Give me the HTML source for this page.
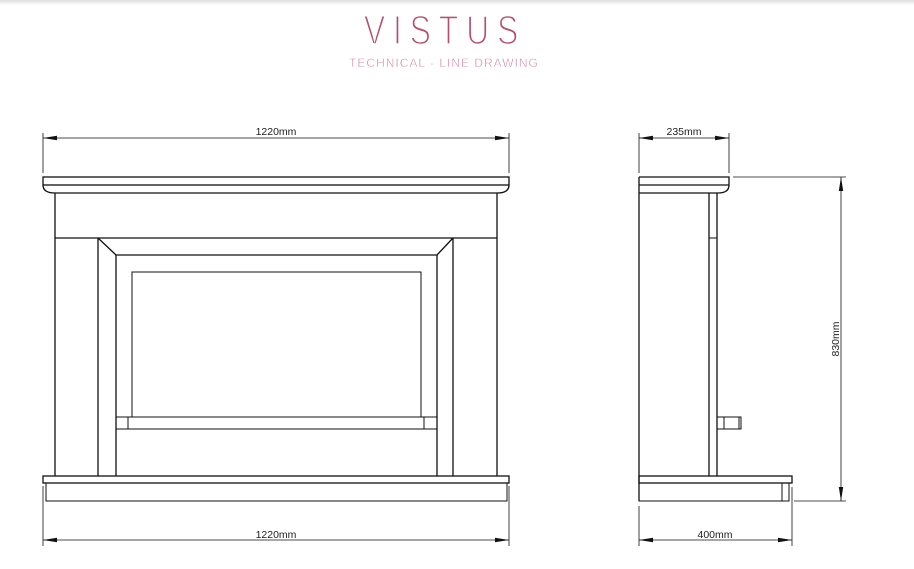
<!DOCTYPE html>
<html><head><style>
html,body{margin:0;padding:0;background:#fff;width:914px;height:569px;overflow:hidden}
</style></head><body>
<svg width="914" height="569" viewBox="0 0 914 569" xmlns="http://www.w3.org/2000/svg">
<defs>
<linearGradient id="sh" x1="0" y1="0" x2="0" y2="1"><stop offset="0" stop-color="#ddd"/><stop offset="1" stop-color="#fff"/></linearGradient>
</defs>
<rect x="0" y="0" width="914" height="5" fill="url(#sh)"/>
<text x="445" y="44" text-anchor="middle" font-family="Liberation Sans, sans-serif" font-size="41" fill="#b34f6b" stroke="#fff" stroke-width="1.6" letter-spacing="10" transform="translate(445 0) scale(0.78 1) translate(-445 0)">VISTUS</text>
<text x="444" y="67" text-anchor="middle" font-family="Liberation Sans, sans-serif" font-size="12" fill="#c9799a" stroke="#fff" stroke-width="0.4" letter-spacing="1">TECHNICAL - LINE DRAWING</text>

<g fill="none" stroke="#111" stroke-width="1.3">
<line x1="43" y1="133" x2="43" y2="173" stroke-width="0.8"/>
<line x1="509" y1="133" x2="509" y2="173" stroke-width="0.8"/>
<line x1="43" y1="138" x2="509" y2="138" stroke-width="0.8"/>
<path d="M43,138 l14,-2.2 v4.4z M509,138 l-14,-2.2 v4.4z" fill="#111" stroke="none"/>
<rect x="43" y="177" width="466" height="8"/>
<path d="M43,185 q0,8 12,8 H497 q12,0 12,-8"/>
<line x1="55" y1="193" x2="55" y2="476"/>
<line x1="497" y1="193" x2="497" y2="476"/>
<line x1="55" y1="238" x2="497" y2="238"/>
<line x1="98" y1="238" x2="98" y2="476"/>
<line x1="453" y1="238" x2="453" y2="476"/>
<line x1="98" y1="238" x2="116" y2="255"/>
<line x1="453" y1="238" x2="437" y2="255"/>
<line x1="116" y1="255" x2="437" y2="255"/>
<line x1="116" y1="255" x2="116" y2="476"/>
<line x1="437" y1="255" x2="437" y2="476"/>
<rect x="132" y="272" width="289" height="145" stroke-width="1"/>
<rect x="116" y="417" width="321" height="12" stroke-width="1"/>
<line x1="128" y1="417" x2="128" y2="429" stroke-width="1"/>
<line x1="424" y1="417" x2="424" y2="429" stroke-width="1"/>
<rect x="43" y="476" width="466" height="7"/>
<rect x="46" y="483" width="461" height="18" stroke-width="1"/>
<line x1="43" y1="486" x2="43" y2="546" stroke-width="0.8"/>
<line x1="509" y1="486" x2="509" y2="546" stroke-width="0.8"/>
<line x1="43" y1="540" x2="509" y2="540" stroke-width="0.8"/>
<path d="M43,540 l14,-2.2 v4.4z M509,540 l-14,-2.2 v4.4z" fill="#111" stroke="none"/>

<line x1="639" y1="133" x2="639" y2="173" stroke-width="0.8"/>
<line x1="729" y1="133" x2="729" y2="173" stroke-width="0.8"/>
<line x1="639" y1="138" x2="729" y2="138" stroke-width="0.8"/>
<path d="M639,138 l14,-2.2 v4.4z M729,138 l-14,-2.2 v4.4z" fill="#111" stroke="none"/>
<path d="M639,177 H729 V185 H639"/>
<path d="M639,193 H718 q11,0 11,-8"/>
<line x1="639" y1="177" x2="639" y2="501"/>
<line x1="709" y1="193" x2="709" y2="476"/>
<line x1="717" y1="193" x2="717" y2="476"/>
<line x1="709" y1="238" x2="717" y2="238" stroke-width="1"/>
<rect x="717" y="417" width="24" height="12" stroke-width="1"/>
<line x1="724" y1="417" x2="724" y2="429" stroke-width="1"/>
<line x1="739" y1="417" x2="739" y2="429" stroke-width="1"/>
<rect x="639" y="476" width="153" height="7"/>
<rect x="639" y="483" width="150" height="18" stroke-width="1"/>
<line x1="782" y1="483" x2="782" y2="501" stroke-width="1"/>
<line x1="733" y1="177" x2="846" y2="177" stroke-width="0.8"/>
<line x1="794" y1="501" x2="846" y2="501" stroke-width="0.8"/>
<line x1="841" y1="177" x2="841" y2="501" stroke-width="0.8"/>
<path d="M841,177 l-2.2,14 h4.4z M841,501 l-2.2,-14 h4.4z" fill="#111" stroke="none"/>
<line x1="639" y1="506" x2="639" y2="546" stroke-width="0.8"/>
<line x1="792" y1="487" x2="792" y2="546" stroke-width="0.8"/>
<line x1="639" y1="540" x2="792" y2="540" stroke-width="0.8"/>
<path d="M639,540 l14,-2.2 v4.4z M792,540 l-14,-2.2 v4.4z" fill="#111" stroke="none"/>
</g>
<g font-family="Liberation Sans, sans-serif" font-size="10.5" fill="#222" text-anchor="middle">
<text x="276" y="135">1220mm</text>
<text x="276" y="538">1220mm</text>
<text x="684" y="135">235mm</text>
<text x="715" y="538">400mm</text>
<text x="0" y="0" transform="translate(839 339) rotate(-90)">830mm</text>
</g>
</svg>
</body></html>
